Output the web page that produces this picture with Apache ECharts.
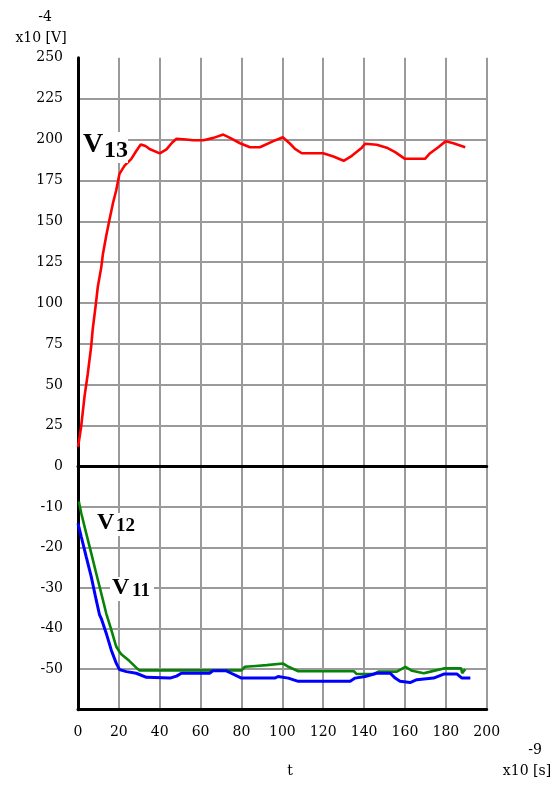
<!DOCTYPE html>
<html>
<head>
<meta charset="utf-8">
<script src="https://cdn.jsdelivr.net/npm/echarts@6/dist/echarts.min.js"></script>
<style>
  html, body { margin: 0; padding: 0; background: #fff; }
  #chart { width: 560px; height: 786px; }
</style>
</head>
<body>
<div id="chart"></div>
<script>
// Time axis ticks (x10^-9 s)
const timeTicks = [0, 20, 40, 60, 80, 100, 120, 140, 160, 180, 200];
// Voltage ticks (x10^-4 V): positive panel and negative panel
const upperTicks = [0, 25, 50, 75, 100, 125, 150, 175, 200, 225, 250];
const lowerTicks = [-60, -50, -40, -30, -20, -10, 0];

// V13: [t, V]
const v13 = [
  [0, 12], [1.5, 24], [3.2, 43], [4.8, 57], [6.4, 73], [7.2, 84], [8.6, 98],
  [9.7, 110], [11.4, 122], [12.2, 130], [13.8, 141], [15.4, 151], [17.1, 161],
  [18.7, 169], [20.3, 179], [22.8, 184], [26, 188], [28.5, 193], [30.7, 197],
  [33, 196], [35.3, 194], [40, 191.5], [43.3, 194], [46, 198], [48.2, 200.5],
  [53, 200], [56.3, 199.5], [61.4, 199.5], [66.3, 201], [71.1, 203], [74.4, 201],
  [79.3, 197.7], [84.2, 195.3], [89, 195.3], [95.6, 199], [100.2, 201.4],
  [103.8, 197.4], [106.2, 194.3], [109.5, 191.6], [120, 191.6], [125, 189.6],
  [130, 187], [134, 190], [138.9, 195], [140.5, 197.4], [146.2, 196.8],
  [151.1, 195], [155.2, 192.3], [160, 188.2], [169.8, 188.2], [172.3, 191.6],
  [176.3, 195.3], [180, 199], [183.7, 197.7], [189.5, 195.3]
];

// V12: [t, V]
const v12 = [
  [0.4, -8.6], [1.6, -11.5], [4, -16.4], [6.5, -21.4], [8.9, -26.3],
  [11.4, -31.3], [13.8, -36.2], [16.3, -40.3], [18.7, -44.4], [20.3, -45.7],
  [21.2, -46.3], [25.2, -48], [28.5, -49.6], [30, -50.3], [80, -50.3],
  [81.7, -49.4], [87, -49.2], [92.3, -49], [100.4, -48.6], [103, -49.4],
  [107.8, -50.5], [135, -50.5], [136.4, -51.2], [144.6, -51.2], [147, -50.6],
  [156, -50.6], [160.2, -49.4], [163.5, -50.4], [169.2, -51], [172.5, -50.6],
  [179, -49.8], [187.5, -49.8], [188, -51], [189.5, -50]
];

// V11: [t, V]
const v11 = [
  [0, -14], [1.6, -17.3], [4, -22.2], [6.5, -27.2], [8.9, -32.9], [10.5, -36.5],
  [11.4, -37.5], [13.8, -41.1], [16.3, -45.3], [18.7, -48.5], [20.3, -50.1],
  [23.7, -50.6], [28.5, -51], [33.5, -52], [45, -52.2], [48.2, -51.7],
  [50.6, -51], [64.4, -51], [66, -50.4], [72.6, -50.4], [75, -51], [80, -52.2],
  [96.3, -52.2], [97.9, -51.8], [102.9, -52.2], [107.8, -53], [133.2, -53],
  [135.6, -52.2], [140.5, -51.8], [146.2, -51], [152.8, -51], [155.2, -52.2],
  [157.6, -53], [162.5, -53.3], [165.8, -52.6], [174, -52.2], [179, -51.2],
  [185.5, -51.2], [187.9, -52.2], [192, -52.2]
];

const tickFont = 'DejaVu Serif';
const gridGray = '#9a9a9a';

const chart = echarts.init(document.getElementById('chart'), null, { renderer: 'canvas' });

const xAxisCommon = {
  type: 'value',
  min: timeTicks[0],
  max: timeTicks[timeTicks.length - 1],
  interval: timeTicks[1] - timeTicks[0],
  axisTick: { show: false },
  splitLine: { show: true, showMinLine: false, showMaxLine: true, lineStyle: { color: gridGray, width: 2 } }
};

chart.setOption({
  animation: false,
  backgroundColor: '#fff',
  grid: [
    { left: 78, top: 57.7, width: 408.7, height: 409 },
    { left: 78, top: 466.7, width: 408.7, height: 243 }
  ],
  xAxis: [
    Object.assign({}, xAxisCommon, {
      gridIndex: 0,
      position: 'bottom',
      axisLine: { show: true, onZero: false, lineStyle: { color: '#000', width: 3 } },
      axisLabel: { show: false }
    }),
    Object.assign({}, xAxisCommon, {
      gridIndex: 1,
      position: 'bottom',
      axisLine: { show: true, onZero: false, lineStyle: { color: '#000', width: 3 } },
      axisLabel: { show: true, margin: 16, color: '#000', fontFamily: tickFont, fontSize: 14 }
    })
  ],
  yAxis: [
    {
      type: 'value', gridIndex: 0,
      min: upperTicks[0], max: upperTicks[upperTicks.length - 1],
      interval: upperTicks[1] - upperTicks[0],
      axisLine: { show: true, onZero: false, lineStyle: { color: '#000', width: 3 } },
      axisTick: { show: false },
      axisLabel: { show: true, showMinLabel: false, margin: 15, color: '#000', fontFamily: tickFont, fontSize: 14 },
      splitLine: { show: true, showMinLine: false, showMaxLine: false, lineStyle: { color: gridGray, width: 2 } }
    },
    {
      type: 'value', gridIndex: 1,
      min: lowerTicks[0], max: lowerTicks[lowerTicks.length - 1],
      interval: lowerTicks[1] - lowerTicks[0],
      axisLine: { show: true, onZero: false, lineStyle: { color: '#000', width: 3 } },
      axisTick: { show: false },
      axisLabel: { show: true, showMinLabel: false, margin: 15, color: '#000', fontFamily: tickFont, fontSize: 14 },
      splitLine: { show: true, showMinLine: false, showMaxLine: false, lineStyle: { color: gridGray, width: 2 } }
    }
  ],
  series: [
    {
      name: 'V13', type: 'line', xAxisIndex: 0, yAxisIndex: 0, data: v13,
      symbol: 'none', lineStyle: { color: '#ff0000', width: 2.6 }, z: 5
    },
    {
      name: 'V12', type: 'line', xAxisIndex: 1, yAxisIndex: 1, data: v12,
      symbol: 'none', lineStyle: { color: '#078407', width: 2.6 }, z: 5
    },
    {
      name: 'V11', type: 'line', xAxisIndex: 1, yAxisIndex: 1, data: v11,
      symbol: 'none', lineStyle: { color: '#0000ff', width: 3 }, z: 6
    }
  ],
  graphic: [
    // axis unit captions
    { type: 'text', x: 45, y: 17, style: { text: '-4', font: '14px "DejaVu Serif"', fill: '#000', align: 'center', verticalAlign: 'middle' } },
    { type: 'text', x: 41, y: 38, style: { text: 'x10 [V]', font: '14px "DejaVu Serif"', fill: '#000', align: 'center', verticalAlign: 'middle' } },
    { type: 'text', x: 290, y: 771, style: { text: 't', font: '14px "DejaVu Serif"', fill: '#000', align: 'center', verticalAlign: 'middle' } },
    { type: 'text', x: 535, y: 750, style: { text: '-9', font: '14px "DejaVu Serif"', fill: '#000', align: 'center', verticalAlign: 'middle' } },
    { type: 'text', x: 527, y: 771, style: { text: 'x10 [s]', font: '14px "DejaVu Serif"', fill: '#000', align: 'center', verticalAlign: 'middle' } },

    // curve names
    { type: 'rect', shape: { x: 80, y: 132, width: 48, height: 31 }, style: { fill: '#fff' }, z: 100 },
    { type: 'text', x: 83, y: 145, z: 101, style: { text: 'V', font: 'bold 28px "Liberation Serif"', fill: '#000', verticalAlign: 'middle' } },
    { type: 'text', x: 104, y: 151, z: 101, style: { text: '13', font: 'bold 24px "Liberation Serif"', fill: '#000', verticalAlign: 'middle' } },

    { type: 'rect', shape: { x: 95, y: 513, width: 44, height: 23 }, style: { fill: '#fff' }, z: 100 },
    { type: 'text', x: 97, y: 523, z: 101, style: { text: 'V', font: 'bold 24px "Liberation Serif"', fill: '#000', verticalAlign: 'middle' } },
    { type: 'text', x: 116, y: 526, z: 101, style: { text: '12', font: 'bold 19px "Liberation Serif"', fill: '#000', verticalAlign: 'middle' } },

    { type: 'rect', shape: { x: 110, y: 577, width: 44, height: 24 }, style: { fill: '#fff' }, z: 100 },
    { type: 'text', x: 112, y: 588, z: 101, style: { text: 'V', font: 'bold 24px "Liberation Serif"', fill: '#000', verticalAlign: 'middle' } },
    { type: 'text', x: 132, y: 591, z: 101, style: { text: '11', font: 'bold 19px "Liberation Serif"', fill: '#000', verticalAlign: 'middle' } }
  ]
});
</script>
</body>
</html>
